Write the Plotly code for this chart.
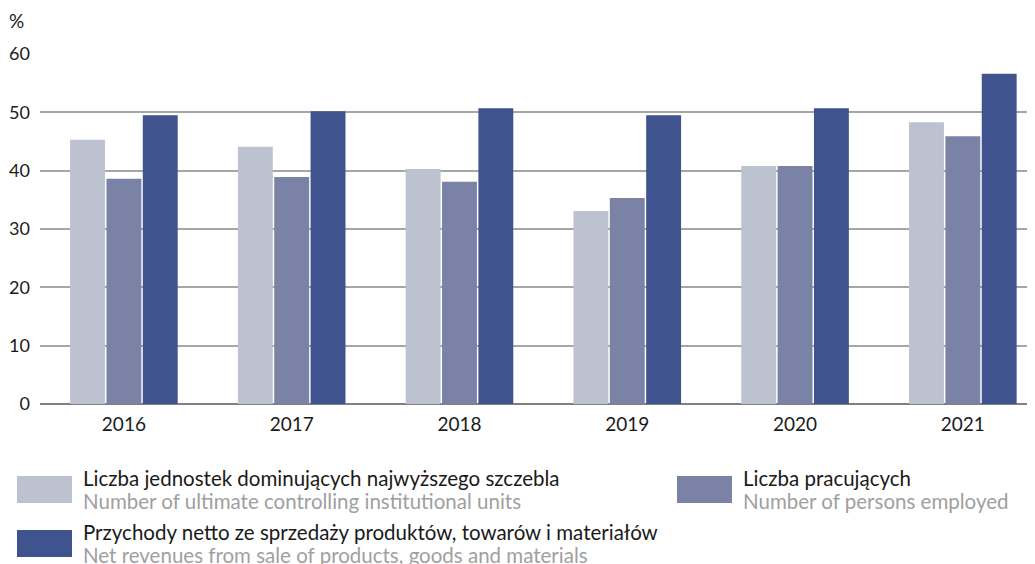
import plotly.graph_objects as go

years = ["2016", "2017", "2018", "2019", "2020", "2021"]
units = [45.3, 44.1, 40.3, 33.1, 40.8, 48.3]
employed = [38.6, 38.9, 38.1, 35.3, 40.8, 45.9]
revenues = [49.5, 50.2, 50.7, 49.5, 50.7, 56.6]

series_pl = [
    "Liczba jednostek dominujących najwyższego szczebla",
    "Liczba pracujących",
    "Przychody netto ze sprzedaży produktów, towarów i materiałów",
]
series_en = [
    "Number of ultimate controlling institutional units",
    "Number of persons employed",
    "Net revenues from sale of products, goods and materials",
]
colors = ["#BCC2CF", "#7A83A6", "#3F548E"]

FONT = "Lato"
FS = 20.5

# plot area in page pixels (page has an 8px body margin)
PL, PR, PT, PB = 40, 1035, 54, 404


def px(wx):
    return (wx - PL) / (PR - PL)


def py(wy):
    return (PB - wy) / (PB - PT)


fig = go.Figure()
for vals, name, col in zip([units, employed, revenues], series_pl, colors):
    fig.add_trace(go.Bar(x=years, y=vals, name=name, marker_color=col,
                         marker_line_width=0, showlegend=False))

# ── Custom two-line legend (Polish / English) ──
# (swatch left, swatch top, page pixels)
legend_pos = [(17, 476), (677, 476), (17, 530)]
for (lx, ly), pl, en, col in zip(legend_pos, series_pl, series_en, colors):
    fig.add_shape(type="rect", xref="paper", yref="paper",
                  x0=px(lx), x1=px(lx + 55), y0=py(ly), y1=py(ly + 27),
                  line_width=0, fillcolor=col)
    fig.add_annotation(xref="paper", yref="paper", x=px(lx + 64), y=py(ly + 2),
                       xanchor="left", yanchor="middle", showarrow=False,
                       text=pl, font=dict(family=FONT, size=FS, color="#1a1a1a"))
    fig.add_annotation(xref="paper", yref="paper", x=px(lx + 64), y=py(ly + 25),
                       xanchor="left", yanchor="middle", showarrow=False,
                       text=en, font=dict(family=FONT, size=FS, color="#a0a0a0"))

fig.add_annotation(xref="paper", yref="paper", x=px(7), y=py(21), xanchor="left",
                   yanchor="middle", showarrow=False, text="%",
                   font=dict(family=FONT, size=19, color="#1a1a1a"))

fig.update_layout(
    width=1035, height=564,
    margin=dict(l=PL - 8, r=8, t=PT - 8, b=564 - (PB - 8)),
    paper_bgcolor="white", plot_bgcolor="white",
    barmode="group", bargap=0.35, bargroupgap=0.04,
    font=dict(family=FONT, size=FS, color="#1a1a1a"),
    xaxis=dict(range=[-0.5, 5.43], showgrid=False, ticks="", showline=False,
               automargin=False, ticklabelstandoff=7, tickfont=dict(size=19)),
    yaxis=dict(range=[0, 60], dtick=10, showgrid=True, gridcolor="#a6a6a6",
               gridwidth=1.5, zeroline=True, zerolinecolor="#808080", zerolinewidth=2,
               ticks="", ticklabelstandoff=9, automargin=False, tickfont=dict(size=18)),
)

fig.write_html("out.html")
